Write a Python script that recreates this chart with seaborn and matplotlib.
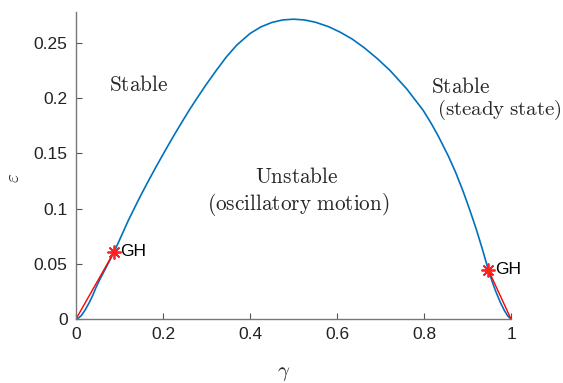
import matplotlib
matplotlib.use("Agg")
import matplotlib.pyplot as plt
import seaborn as sns
import pandas as pd

# Boundary curve (blue)
gamma = [0, 0.006, 0.012, 0.02, 0.03, 0.038, 0.046, 0.055, 0.065, 0.076, 0.088,
         0.10, 0.12, 0.135, 0.147, 0.165, 0.185, 0.205, 0.224, 0.243, 0.262, 0.281,
         0.300, 0.323, 0.346, 0.37, 0.40, 0.425, 0.45, 0.475, 0.50, 0.525, 0.55,
         0.58, 0.607, 0.635, 0.663, 0.692, 0.722, 0.76, 0.798, 0.816, 0.833, 0.856,
         0.873, 0.890, 0.905, 0.92, 0.934, 0.948, 0.957, 0.965, 0.975, 0.985,
         0.993, 1.0]
eps = [0, 0.001, 0.003, 0.0075, 0.0145, 0.021, 0.0285, 0.036, 0.0435, 0.052, 0.061,
       0.0715, 0.089, 0.101, 0.1105, 0.124, 0.1385, 0.1525, 0.1655, 0.178, 0.1902, 0.2016,
       0.2127, 0.2254, 0.2375, 0.2482, 0.2585, 0.2645, 0.2685, 0.2708, 0.2715, 0.2708,
       0.2688, 0.2648, 0.2598, 0.2535, 0.2455, 0.236, 0.2250, 0.2085, 0.189, 0.1775,
       0.1655, 0.1475, 0.1325, 0.1155, 0.099, 0.0815, 0.0635, 0.0444, 0.0335, 0.025,
       0.0155, 0.0075, 0.0025, 0]

# Red line segments
red_left_x = [0, 0.088]
red_left_y = [0, 0.061]
red_right_x = [0.948, 1.0]
red_right_y = [0.0444, 0]

# GH points
gh_x = [0.088, 0.948]
gh_y = [0.061, 0.0444]

xticks = [0, 0.2, 0.4, 0.6, 0.8, 1]
xtick_labels = ["0", "0.2", "0.4", "0.6", "0.8", "1"]
yticks = [0, 0.05, 0.1, 0.15, 0.2, 0.25]
ytick_labels = ["0", "0.05", "0.1", "0.15", "0.2", "0.25"]

sns.set_theme(style="ticks")
plt.rcParams["font.family"] = ["Liberation Sans", "DejaVu Sans"]
plt.rcParams["mathtext.fontset"] = "cm"

fig = plt.figure(figsize=(5.63, 3.83), dpi=100)
ax = fig.add_axes([76 / 563, 64 / 383, 435 / 563, 307 / 383])

df = pd.DataFrame({"gamma": gamma, "eps": eps})
sns.lineplot(data=df, x="gamma", y="eps", ax=ax, color="#0072BD", lw=1.2,
             estimator=None, sort=False)
ax.plot(red_left_x, red_left_y, color="#FF0000", lw=1.0)
ax.plot(red_right_x, red_right_y, color="#FF0000", lw=1.0)
ax.plot(gh_x, gh_y, linestyle="none", marker=(8, 2, 0), markersize=10,
        markeredgewidth=1.3, color="#FF2020")
for gx, gy in zip(gh_x, gh_y):
    ax.annotate("GH", (gx, gy), xytext=(4.5, 0), textcoords="offset points",
                ha="left", va="center", fontsize=12.5, color="black")

ax.set_xlim(0, 1)
ax.set_ylim(0, 0.278)
ax.set_xticks(xticks)
ax.set_xticklabels(xtick_labels)
ax.set_yticks(yticks)
ax.set_yticklabels(ytick_labels)
ax.tick_params(direction="in", length=4, width=0.8, color="#555555",
               labelsize=12.5, labelcolor="#222222", pad=6)
for s in ["left", "bottom"]:
    ax.spines[s].set_color("#777777")
    ax.spines[s].set_linewidth(1.0)
sns.despine(ax=ax)

ax.set_xlabel(r"$\gamma$", fontsize=15)
ax.xaxis.set_label_coords(0.477, -0.148)
ax.set_ylabel(r"$\varepsilon$", fontsize=14, rotation=90)
ax.yaxis.set_label_coords(-0.122, 0.46)

fs = 15.3
ax.text(0.145, 0.212, r"$\mathrm{Stable}$", fontsize=fs, ha="center", va="center")
ax.text(0.816, 0.2105, r"$\mathrm{Stable}$", fontsize=fs, ha="left", va="center")
ax.text(0.830, 0.189, r"$\mathrm{(steady\ state)}$", fontsize=15, ha="left",
        va="center", clip_on=False)
ax.text(0.507, 0.129, r"$\mathrm{Unstable}$", fontsize=fs, ha="center", va="center")
ax.text(0.51, 0.104, r"$\mathrm{(oscillatory\ motion)}$", fontsize=fs,
        ha="center", va="center")

fig.savefig("out.png", dpi=100)
